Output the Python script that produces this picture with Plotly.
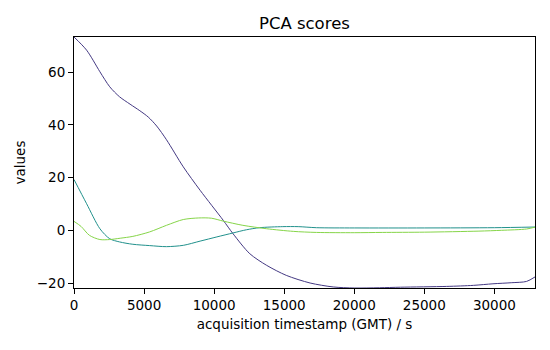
import plotly.graph_objects as go

# Principal component scores over acquisition time
pc1_t = [0, 900, 1850, 2550, 3250, 4000, 4700, 5300, 5900, 6600, 7800, 9000, 10650, 11350,
         12550, 13750, 15150, 16850, 18500, 20000, 21800, 23300, 26600, 28500, 29900,
         31200, 32300, 32900]
pc1 = [73.4, 68.4, 60.2, 54.5, 50.7, 47.9, 45.4, 43.0, 39.6, 34.4, 24.1, 15.2, 3.8, -1.3,
       -8.9, -13.3, -17.1, -20.0, -21.5, -21.9, -21.8, -21.6, -21.3, -20.9, -20.3,
       -19.9, -19.4, -17.7]

pc2_t = [0, 900, 1850, 2550, 3250, 4200, 5400, 6600, 7800, 9000, 10200, 11350, 12300,
         13250, 14900, 16000, 17300, 20000, 25000, 30000, 32900]
pc2 = [19.3, 10.1, 0.6, -3.2, -4.4, -5.3, -5.8, -6.2, -5.7, -4.1, -2.5, -1.0, 0.2,
       1.0, 1.4, 1.4, 1.0, 0.9, 0.9, 1.0, 1.25]

pc3_t = [0, 500, 1100, 1850, 2550, 3300, 4200, 5400, 6600, 7800, 8900, 9800, 10650,
         12050, 13750, 15650, 17300, 20000, 22000, 25000, 28900, 30500, 32300, 32900]
pc3 = [3.4, 1.5, -1.9, -3.5, -3.5, -3.0, -2.3, -0.6, 1.9, 4.1, 4.7, 4.6, 3.5,
       1.9, 0.6, -0.4, -0.8, -0.9, -0.8, -0.7, -0.3, 0.0, 0.5, 1.2]

x_ticks = [0, 5000, 10000, 15000, 20000, 25000, 30000]
y_ticks = [-20, 0, 20, 40, 60]

series = [
    (pc1_t, pc1, "#443983"),
    (pc2_t, pc2, "#21918c"),
    (pc3_t, pc3, "#86d549"),
]

FONT = "DejaVu Sans"

fig = go.Figure()
for t, v, c in series:
    fig.add_trace(go.Scatter(
        x=t, y=v, mode="lines",
        line=dict(color=c, width=1, shape="spline", smoothing=0.8),
        showlegend=False, hoverinfo="skip",
    ))

all_t = pc1_t + pc2_t + pc3_t
all_v = pc1 + pc2 + pc3

axis_common = dict(
    showline=True, linecolor="black", linewidth=1, mirror=True,
    ticks="outside", ticklen=5, tickwidth=1, tickcolor="black",
    showgrid=False, zeroline=False,
    tickfont=dict(family=FONT, size=13.5, color="black"),
)

fig.update_layout(
    width=550, height=350,
    margin=dict(l=74, r=15, t=37, b=62),
    paper_bgcolor="white", plot_bgcolor="white",
    title=dict(text="PCA scores", x=0.5535, xanchor="center", y=0.934, yanchor="middle",
               font=dict(family=FONT, size=16.5, color="black")),
    xaxis=dict(range=[min(all_t), max(all_t)], tickvals=x_ticks,
               ticktext=[str(v) for v in x_ticks],
               title=dict(text="acquisition timestamp (GMT) / s",
                          font=dict(family=FONT, size=13.5, color="black"), standoff=7),
               **axis_common),
    yaxis=dict(range=[min(all_v), max(all_v)], tickvals=y_ticks,
               ticktext=[str(v).replace("-", "\u2212") for v in y_ticks],
               title=dict(text="values", font=dict(family=FONT, size=13.5, color="black"),
                          standoff=8),
               **axis_common),
)

fig.write_html("out.html")
